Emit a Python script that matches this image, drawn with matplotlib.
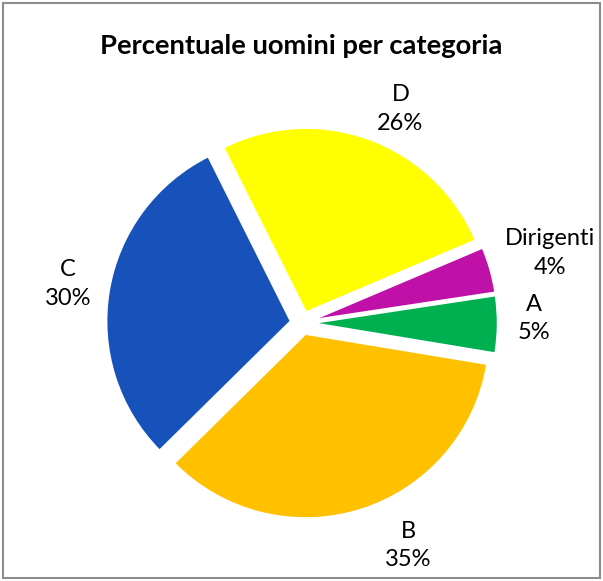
import numpy as np
import matplotlib.pyplot as plt
from matplotlib.patches import Rectangle

# data
categories = ['Dirigenti', 'A', 'B', 'C', 'D']
percent = [4, 5, 35, 30, 26]
colors = ['#BF10A8', '#00B050', '#FFC000', '#1652B9', '#FFFF00']

# label placement (radius in pie units, angle nudge in degrees)
label_r = [1.40, 1.26, 1.34, 1.29, 1.28]
label_nudge = [0, 1.5, 8, 0, -4.5]

plt.rcParams['font.family'] = ['Lato', 'DejaVu Sans']

W, H = 603, 581
cx, cy, R = 302, 323, 184

fig = plt.figure(figsize=(W / 100, H / 100), dpi=100)
ax = fig.add_axes([0, 0, 1, 1])

wedges, _ = ax.pie(percent, colors=colors, startangle=23, counterclock=False,
                   explode=[0.063] * len(percent),
                   wedgeprops=dict(edgecolor='white', linewidth=1.2))

for w, name, p, r, nd in zip(wedges, categories, percent, label_r, label_nudge):
    ang = np.deg2rad((w.theta1 + w.theta2) / 2 + nd)
    ax.text(r * np.cos(ang), r * np.sin(ang), f'{name}\n{p}%',
            ha='center', va='center', fontsize=17, linespacing=1.45)

ax.set_xlim(-cx / R, (W - cx) / R)
ax.set_ylim(-(H - cy) / R, cy / R)
ax.set_aspect('equal', adjustable='box')
ax.axis('off')

fig.text(0.5, 1 - 46 / H, 'Percentuale uomini per categoria', ha='center', va='center',
         fontsize=19.7, fontweight='bold')

fig.patches.append(Rectangle((3 / W, 3 / H), (W - 6) / W, (H - 6) / H, transform=fig.transFigure,
                             fill=False, edgecolor='#8C8C8C', linewidth=1.5))

fig.savefig('out.png', dpi=100)
